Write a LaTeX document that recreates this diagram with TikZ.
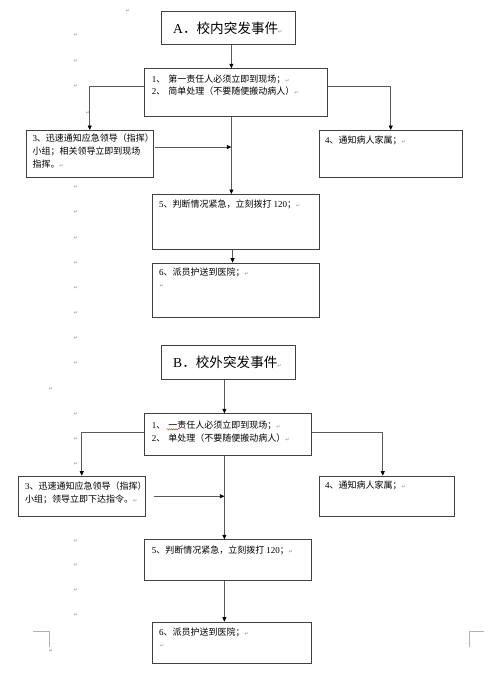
\documentclass[tikz,border=0pt]{standalone}
\usepackage{fontspec}
\setmainfont{Liberation Serif}
\newfontfamily\cjk{Noto Sans CJK SC}
\newfontfamily\dejavu{DejaVu Sans}
\usetikzlibrary{arrows.meta,decorations.pathmorphing}
\newcommand\parmk{{\dejavu\fontsize{5}{5}\selectfont\color{black!45}↵}}
\tikzset{
 box/.style={draw=black!75, line width=0.8pt, anchor=north west, inner sep=0pt},
 arr/.style={draw=black!65, line width=0.7pt, -{Triangle[length=4.5pt,width=4pt,color=black]}},
 txt/.style={inner sep=0pt, anchor=west, font=\cjk\fontsize{9}{13}\selectfont, align=left},
 mtxt/.style={txt, anchor=north west},
 ttl/.style={inner sep=0pt, anchor=west, font=\cjk\fontsize{13.6}{15}\selectfont},
 pmk/.style={inner sep=0pt, font=\dejavu\fontsize{5}{5}\selectfont, text=black!45},
 crop/.style={draw=black!30, line width=0.7pt},
}
\begin{document}
\begin{tikzpicture}[x=1pt,y=-1pt]
\useasboundingbox (0,0) rectangle (492,673);
\fill[white] (0,0) rectangle (492,673);

% margin paragraph marks
\foreach \x/\y [count=\i] in {128/11, 76/35, 76/61, 76/86, 88/112.7, 76/187.3, 76/212.3, 76/237.7, 76/262.7, 76/288, 76/313.3, 76/338.3, 76/363.3, 51/389.3, 76/414, 76/439, 76/464, 76/540.7, 76/565, 76/590, 76/615, 51/650.7}
  \node[pmk] (m\i) at (\x,\y) {↵};

% ---------- Part A ----------
\node[box, minimum width=134.6pt, minimum height=33.6pt] (ta) at (160.7,10.7) {};
\node[ttl] (tat) at (173,28) {{\rmfamily A}．校内突发事件\parmk};

\node[box, minimum width=182.4pt, minimum height=47.7pt] (a1) at (144.3,68.3) {};
\node[mtxt, font=\cjk\fontsize{9}{11.7}\selectfont] (a1t) at (151.7,75)
  {{\rmfamily 1}、\hspace{3pt}第一责任人必须立即到现场；\parmk\\{\rmfamily 2}、\hspace{3pt}简单处理（不要随便搬动病人）\parmk};

\node[box, minimum width=126.7pt, minimum height=47.3pt] (a3) at (26,130) {};
\node[mtxt] (a3t) at (32.3,133.5)
  {{\rmfamily 3}、迅速通知应急领导（指挥）\\小组；相关领导立即到现场\\指挥。\parmk};

\node[box, minimum width=142.7pt, minimum height=47.3pt] (a4) at (319,130) {};
\node[txt] (a4t) at (325,140.3) {{\rmfamily 4}、通知病人家属；\parmk};

\node[box, minimum width=166.7pt, minimum height=54.7pt] (a5) at (152.3,194) {};
\node[txt] (a5t) at (159,204) {{\rmfamily 5}、判断情况紧急，立刻拨打 {\rmfamily 120}；\parmk};

\node[box, minimum width=166.7pt, minimum height=54.6pt] (a6) at (152.3,262.7) {};
\node[txt] (a6t) at (159,272.7) {{\rmfamily 6}、派员护送到医院；\parmk};
\node[pmk, anchor=west] (a6p) at (159.5,285.7) {↵};

\coordinate (va) at ([xshift=-4.5pt]a1.south);
\draw[arr] ([xshift=3pt]ta.south) -- ([xshift=3pt]ta.south |- a1.north);
\draw[arr] ([yshift=6.2pt]a1.west) -| (a3.north);
\draw[arr] ([yshift=6.2pt]a1.east) -| (a4.north);
\draw[arr] (va) -- (va |- a5.north);
\draw[arr] ([xshift=1.5pt,yshift=7pt]a3.east) -- ([yshift=7pt]a3.east -| va);
\draw[arr] ([xshift=-3.5pt]a5.south) -- ([xshift=-3.5pt]a5.south |- a6.north);

% ---------- Part B ----------
\node[box, minimum width=134.6pt, minimum height=34.3pt] (tb) at (160.7,344.7) {};
\node[ttl] (tbt) at (173,362.3) {{\rmfamily B}．校外突发事件\parmk};

\node[box, minimum width=167pt, minimum height=41.4pt] (b1) at (144.3,413.3) {};
\node[mtxt] (b1t) at (151.7,420.3)
  {{\rmfamily 1}、\hspace{3pt}一责任人必须立即到现场；\parmk\\{\rmfamily 2}、\hspace{3pt}单处理（不要随便搬动病人）\parmk};
\draw[red!80, line width=0.5pt, decorate, decoration={snake, amplitude=0.6pt, segment length=2.2pt}] (166.5,429.3) -- (178,429.3);

\node[box, minimum width=126.7pt, minimum height=40.3pt] (b3) at (18,475.7) {};
\node[mtxt] (b3t) at (25,481.5)
  {{\rmfamily 3}、迅速通知应急领导（指挥）\\小组；领导立即下达指令。\parmk};

\node[box, minimum width=134.7pt, minimum height=40.3pt] (b4) at (319,475.7) {};
\node[txt] (b4t) at (325,485.7) {{\rmfamily 4}、通知病人家属；\parmk};

\node[box, minimum width=167pt, minimum height=41pt] (b5) at (144.3,539.3) {};
\node[txt] (b5t) at (151.7,550.7) {{\rmfamily 5}、判断情况紧急，立刻拨打 {\rmfamily 120}；\parmk};

\node[box, minimum width=159pt, minimum height=41.6pt] (b6) at (152.3,621.7) {};
\node[txt] (b6t) at (159,632.3) {{\rmfamily 6}、派员护送到医院；\parmk};
\node[pmk, anchor=west] (b6p) at (160,645.7) {↵};

\coordinate (vb) at ([xshift=-3.8pt]b1.south);
\draw[arr] ([xshift=-4pt]tb.south) -- ([xshift=-4pt]tb.south |- b1.north);
\draw[arr] ([yshift=2.3pt]b1.west) -| (b3.north);
\draw[arr] ([yshift=2.3pt]b1.east) -| ([xshift=-4pt]b4.north);
\draw[arr] (vb) -- (vb |- b5.north);
\draw[arr] ([xshift=8pt]b3.east) -- (b3.east -| vb);
\draw[arr] ([xshift=-3.8pt]b5.south) -- ([xshift=-3.8pt]b5.south |- b6.north);

% page crop marks
\draw[crop] (33,631.7) -- (49.3,631.7) -- (49.3,646.7);
\draw[crop] (469,646.7) -- (469,631.7) -- (484.3,631.7);
\end{tikzpicture}
\end{document}
